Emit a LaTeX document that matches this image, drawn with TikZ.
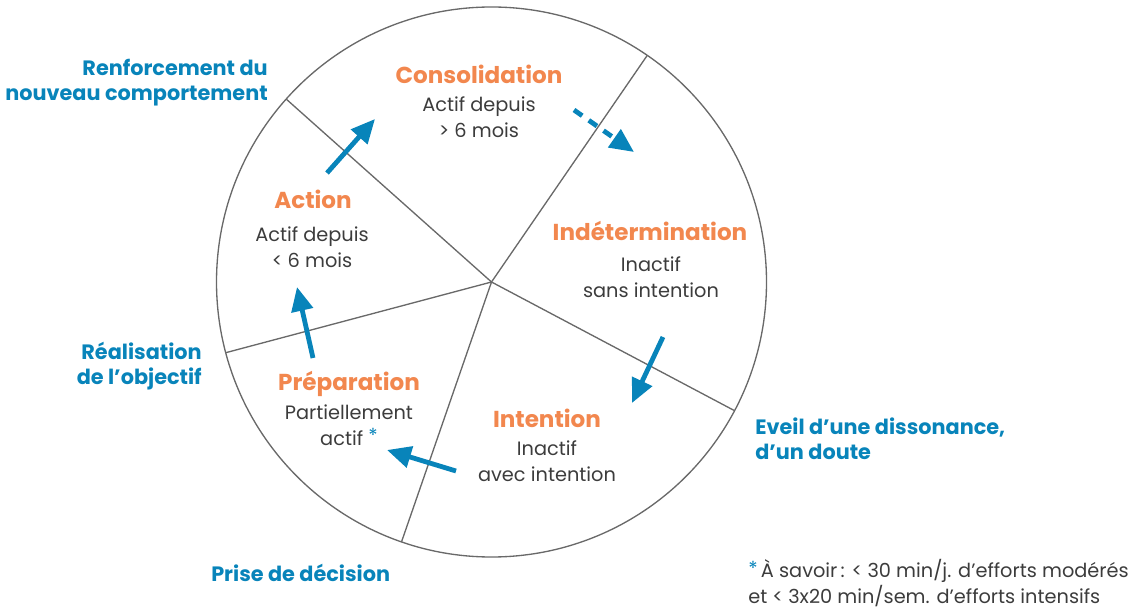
\documentclass[tikz,border=0pt]{standalone}
\usepackage{fontspec}
\setmainfont{Poppins}
\usetikzlibrary{arrows.meta}

\definecolor{stageorange}{RGB}{242,135,78}
\definecolor{cycleblue}{RGB}{8,132,186}
\definecolor{textgray}{RGB}{60,60,60}
\definecolor{rimgray}{RGB}{105,105,105}

\tikzset{
  stagetitle/.style={font=\fontsize{17.3}{20}\selectfont\bfseries, text=stageorange, inner sep=0pt},
  stagetext/.style={font=\fontsize{14.5}{19.5}\selectfont, text=textgray, align=center, inner sep=0pt},
  edgelabel/.style={font=\fontsize{15.6}{18.75}\selectfont\bfseries, text=cycleblue, inner sep=0pt},
  cyclearrow/.style={draw=cycleblue, line width=3.6pt, -{Triangle[length=18pt,width=16pt]}},
}

\begin{document}
\begin{tikzpicture}[x=0.75pt,y=0.75pt,yscale=-1,xscale=1]
\useasboundingbox (0,0) rectangle (1145,609);

%Circle and sectors
\coordinate (c) at (491.5,282);
\draw [rimgray, line width=1pt] (c) circle [radius=275];
\foreach \a in {-138.3,-55.5,27.9,109.1,165.1}
  \draw [rimgray, line width=1pt] (c) -- ++(\a:275);

% Stage titles
\node [stagetitle] (consT) at (479,74) {Consolidation};
\node [stagetitle] (indT) at (650,231) {Indétermination};
\node [stagetitle] (intT) at (547,418) {Intention};
\node [stagetitle] (prepT) at (349,384) {Préparation};
\node [stagetitle] (actT) at (313,199) {Action};

% Stage texts
\node [stagetext] (consB) at (479,117) {Actif depuis\\> 6 mois};
\node [stagetext] (indB) at (651,277) {Inactif\\sans intention};
\node [stagetext] (intB) at (547,461) {Inactif\\avec intention};
\node [stagetext] (prepB) at (349,425) {Partiellement\\actif \raisebox{2pt}{\textcolor{cycleblue}{*}}};
\node [stagetext] (actB) at (312,247) {Actif depuis\\< 6 mois};

% Transition labels
\node [edgelabel, anchor=east, align=right] (renf) at (268,82.5) {Renforcement du\\nouveau comportement};
\node [edgelabel, anchor=east, align=right] (real) at (202,366) {Réalisation\\de l’objectif};
\node [edgelabel, anchor=west, align=left] (eveil) at (755,438.5) {Eveil d’une dissonance,\\d’un doute};
\node [edgelabel, anchor=west] (prise) at (211,573) {Prise de décision};

% Footnote
\node [stagetext, anchor=west, align=left] (note) at (748,583.5)
  {\raisebox{2pt}{\textcolor{cycleblue}{*}}\,À savoir\,: < 30 min/j. d’efforts modérés\\et < 3x20 min/sem. d’efforts intensifs};

% Arrows
\coordinate (a1s) at (327,173); \coordinate (a1e) at (375,119);
\coordinate (a2s) at (574,110); \coordinate (a2e) at (634,152);
\coordinate (a3s) at (663,337); \coordinate (a3e) at (632,403);
\coordinate (a4s) at (456,471); \coordinate (a4e) at (387,450);
\coordinate (a5s) at (313,358); \coordinate (a5e) at (297,287);
\draw [cyclearrow] (a1s) -- (a1e);
\draw [cyclearrow, dash pattern=on 7.5pt off 6pt] (a2s) -- (a2e);
\draw [cyclearrow] (a3s) -- (a3e);
\draw [cyclearrow] (a4s) -- (a4e);
\draw [cyclearrow] (a5s) -- (a5e);

\end{tikzpicture}
\end{document}
